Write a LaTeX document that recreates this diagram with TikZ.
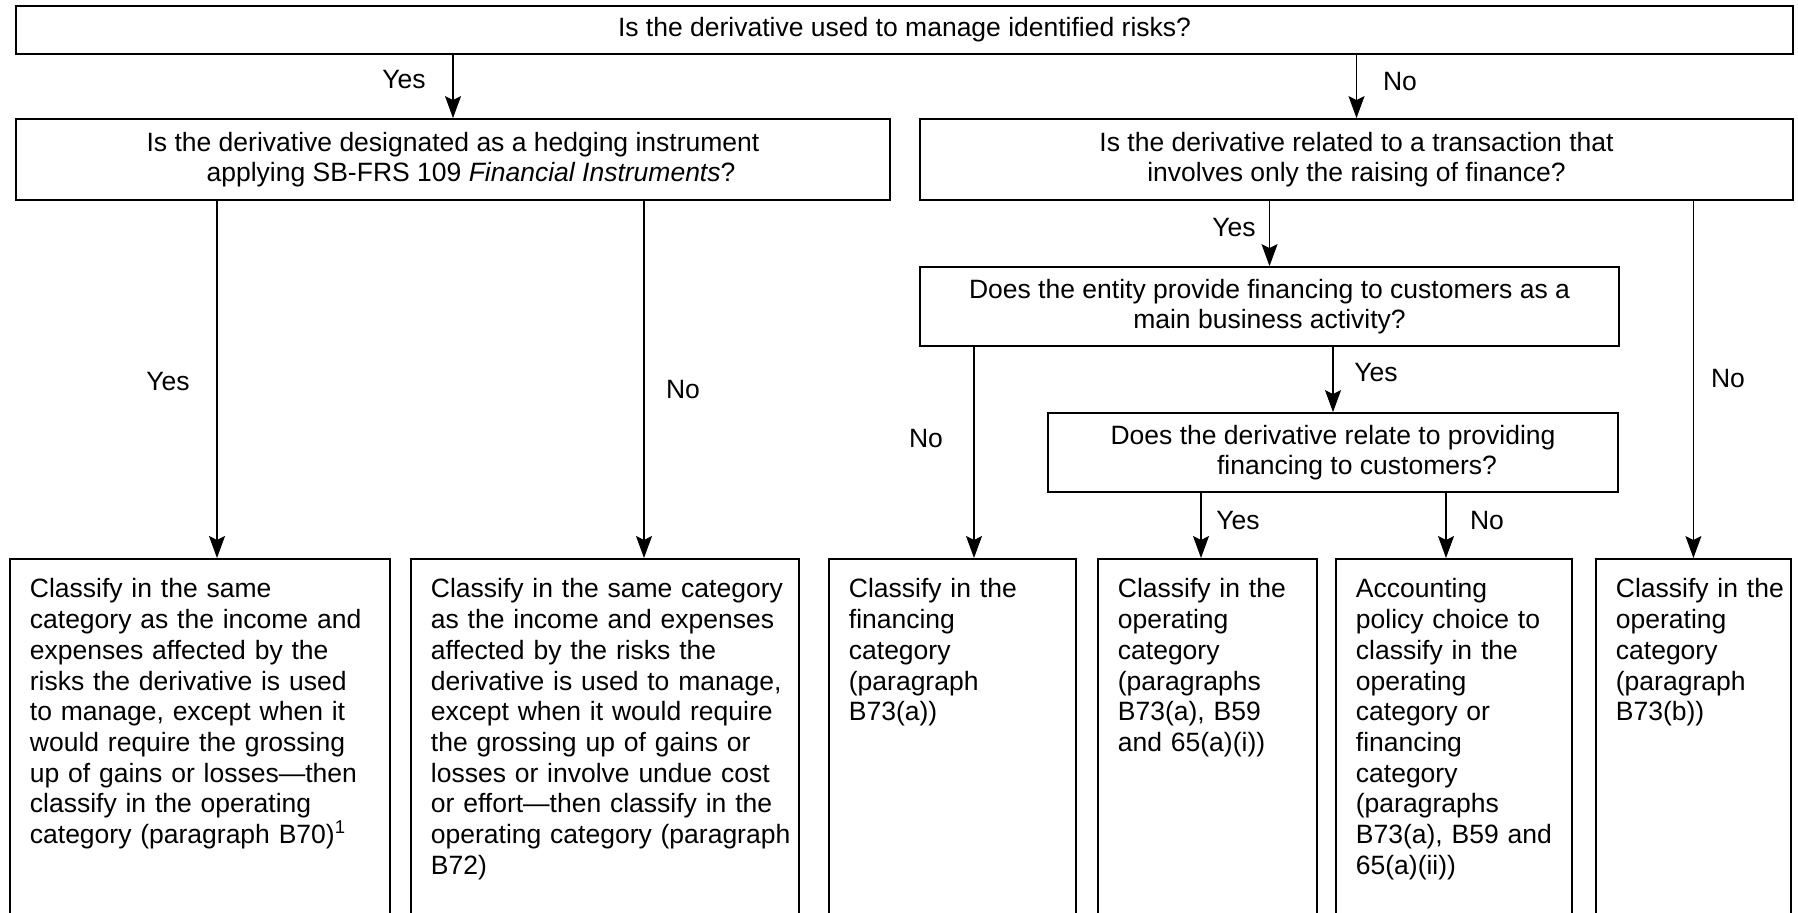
\documentclass[tikz,border=0pt]{standalone}
\usepackage{fontspec}
\setmainfont{Liberation Sans}
\usetikzlibrary{arrows.meta}

\begin{document}
\begin{tikzpicture}[x=0.5pt,y=-0.5pt,font=\fontsize{13.25pt}{15.35pt}\selectfont]
  \tikzstyle{question}=[draw,rectangle,line width=0.9pt,align=center,inner sep=0pt];
  \tikzstyle{outcome}=[draw,rectangle,line width=0.9pt,anchor=north west,align=left,inner xsep=0pt,inner ysep=6.5pt,text height=13pt,text depth=250pt,execute at begin node={\leftskip=10pt\relax}];
  \tikzstyle{answer}=[inner sep=0pt];
  \tikzstyle{flow}=[-{Stealth[length=11pt,width=8pt,inset=2pt]},line width=0.6pt];

  \useasboundingbox (0,0) rectangle (1798,912);
  \clip (0,0) rectangle (1798,912);

  \node[question,minimum width=888.5pt,minimum height=24pt] (risk) at (904.5,30) {Is the derivative used to manage identified risks?};
  \node[question,minimum width=437pt,minimum height=40.5pt] (hedge) at (453,159.5) {Is the derivative designated as a hedging instrument\\\hspace*{18pt}applying SB-FRS 109 \textit{Financial Instruments}?};
  \node[question,minimum width=436.5pt,minimum height=40.5pt] (finance) at (1356.5,159.5) {Is the derivative related to a transaction that\\involves only the raising of finance?};
  \node[question,minimum width=349.5pt,minimum height=39.5pt] (entity) at (1269.5,306.5) {Does the entity provide financing to customers as a\\main business activity?};
  \node[question,minimum width=285pt,minimum height=39.5pt] (relate) at (1333,452.5) {Does the derivative relate to providing\\\hspace*{24pt}financing to customers?};

  \node[outcome,text width=190pt] (sameA) at (9,558) {Classify in the same\\category as the income and\\expenses affected by the\\risks the derivative is used\\to manage, except when it\\would require the grossing\\up of gains or losses—then\\classify in the operating\\category (paragraph B70)\textsuperscript{1}};
  \node[outcome,text width=194pt] (sameB) at (410,558) {Classify in the same category\\as the income and expenses\\affected by the risks the\\derivative is used to manage,\\except when it would require\\the grossing up of gains or\\losses or involve undue cost\\or effort—then classify in the\\operating category (paragraph\\B72)};
  \node[outcome,text width=123.5pt] (fin) at (828,558) {Classify in the\\financing\\category\\(paragraph\\B73(a))};
  \node[outcome,text width=109.5pt] (opA) at (1097,558) {Classify in the\\operating\\category\\(paragraphs\\B73(a), B59\\and 65(a)(i))};
  \node[outcome,text width=118pt] (policy) at (1335,558) {Accounting\\policy choice to\\classify in the\\operating\\category or\\financing\\category\\(paragraphs\\B73(a), B59 and\\65(a)(ii))};
  \node[outcome,text width=97.5pt] (opB) at (1595,558) {Classify in the\\operating\\category\\(paragraph\\B73(b))};

  \coordinate (yesA) at (217,0);
  \coordinate (noA) at (644,0);
  \coordinate (noE) at (974,0);
  \coordinate (yesR) at (1201,0);
  \coordinate (noR) at (1446,0);

  % risk : yes => hedge, no => finance
  \draw[flow] (hedge.north |- risk.south) -- (hedge.north);
  \draw[flow] (finance.north |- risk.south) -- (finance.north);
  \node[answer] (yesTop) at (404,80) {Yes};
  \node[answer] (noTop) at (1400,82) {No};

  % hedge : yes => sameA, no => sameB
  \draw[flow] (hedge.south -| yesA) -- (sameA.north -| yesA);
  \draw[flow] (hedge.south -| noA) -- (sameB.north -| noA);
  \node[answer] (yesHedge) at (168,382) {Yes};
  \node[answer] (noHedge) at (683,390) {No};

  % finance : yes => entity, no => opB
  \draw[flow] (entity.north |- finance.south) -- (entity.north);
  \draw[flow] (finance.south -| opB.north) -- (opB.north);
  \node[answer] (yesFin) at (1234,228) {Yes};
  \node[answer] (noFin) at (1728,378) {No};

  % entity : yes => relate, no => fin
  \draw[flow] (relate.north |- entity.south) -- (relate.north);
  \draw[flow] (entity.south -| noE) -- (fin.north -| noE);
  \node[answer] (yesEntity) at (1376,373) {Yes};
  \node[answer] (noEntity) at (926,438) {No};

  % relate : yes => opA, no => policy
  \draw[flow] (relate.south -| yesR) -- (opA.north -| yesR);
  \draw[flow] (relate.south -| noR) -- (policy.north -| noR);
  \node[answer] (yesRel) at (1238,520) {Yes};
  \node[answer] (noRel) at (1487,520) {No};

\end{tikzpicture}
\end{document}
